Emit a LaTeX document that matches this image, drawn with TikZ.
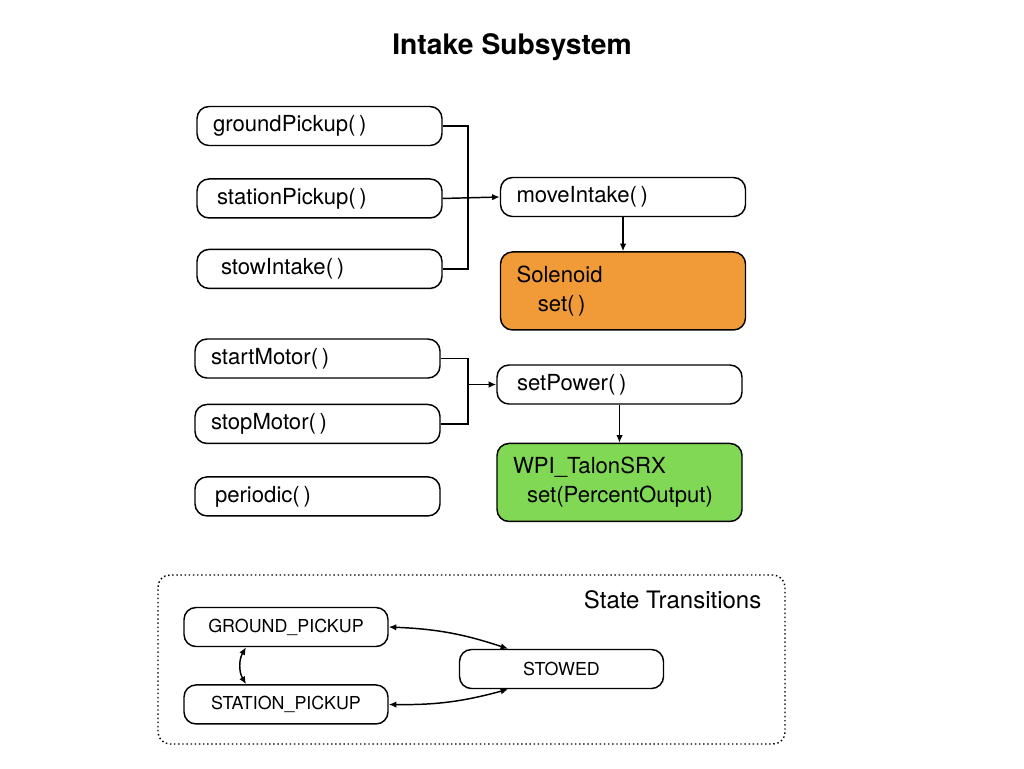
\documentclass[tikz,border=0pt]{standalone}
\usepackage{fontspec}
\setmainfont{TeX Gyre Heros}
\usetikzlibrary{arrows.meta, positioning}
\definecolor{solorange}{RGB}{240,155,56}
\definecolor{talongreen}{RGB}{128,216,85}

\begin{document}
\begin{tikzpicture}[
    x=0.75pt, y=-0.75pt,
    method/.style={rectangle, rounded corners=9pt, draw=black, line width=1.1pt, fill=white,
                   minimum height=29.25pt, text width=159.75pt, inner xsep=12pt,
                   align=left, font=\fontsize{16.6}{19}\selectfont},
    device/.style={method, minimum height=58.5pt, font=\fontsize{16.6}{22}\selectfont},
    state/.style={rectangle, rounded corners=9pt, draw=black, line width=1.1pt,
                  minimum width=153pt, minimum height=29.25pt,
                  text centered, font=\fontsize{13.4}{15}\selectfont},
    link/.style={line width=1.1pt},
    arrow/.style={link, -{Latex[length=2mm, width=1.7mm]}},
    twoway/.style={link, {Latex[length=2mm, width=1.7mm]}-{Latex[length=2mm, width=1.7mm]}}
]
\useasboundingbox (0,0) rectangle (1024,768);

% Titel
\node[font=\bfseries\fontsize{21.2}{25}\selectfont] (title) at (512,47) {Intake Subsystem};

% Intake-Methoden
\node[method] (ground) at (319.5,126) {groundPickup(\,)};
\node[method, below=24pt of ground] (station) {\hspace{3pt}stationPickup(\,)};
\node[method, below=22.5pt of station] (stow) {\hspace{6pt}stowIntake(\,)};
\node[method] (move) at (623,197) {moveIntake(\,)};
\node[device, fill=solorange, below=25.5pt of move] (sol) {Solenoid\\\hspace{16pt}set(\,)};

% Motor-Methoden
\node[method] (start) at (317.5,358.5) {startMotor(\,)};
\node[method, below=18.75pt of start] (stop) {stopMotor(\,)};
\node[method, below=24pt of stop] (periodic) {\hspace{3pt}periodic(\,)};
\node[method] (power) at (619.5,384.5) {\hspace{3pt}setPower(\,)};
\node[device, fill=talongreen, below=28.5pt of power] (talon) {WPI\_TalonSRX\\\hspace{10.5pt}set(PercentOutput)};

% Verbindungen
\coordinate (busA) at (468,0);
\draw[link] (ground.east) -- (ground.east -| busA) -- (stow.east -| busA) -- (stow.east);
\draw[arrow] (station.east) -- (move.west);
\draw[arrow] (move) -- (sol);

\coordinate (busB) at (468,0);
\draw[link] (start.east) -- (start.east -| busB) -- (stop.east -| busB) -- (stop.east);
\draw[arrow] (busB |- power.west) -- (power.west);
\draw[arrow] (power) -- (talon);

% Zustandsuebergaenge
\node[draw, dotted, line width=1.1pt, rounded corners=9pt,
      minimum width=470.25pt, minimum height=126.75pt] (frame) at (471.5,659.5) {};
\node[anchor=east, font=\fontsize{18}{21}\selectfont] (frametitle) at (766,599.5) {State Transitions};

\node[state] (gp) at (286,627) {GROUND\_PICKUP};
\node[state, below=27.75pt of gp] (sp) {STATION\_PICKUP};
\node[state] (stowed) at (561.5,669) {STOWED};

\draw[twoway] (gp.east) to[bend left=8] ([xshift=-40pt]stowed.north);
\draw[twoway] (sp.east) to[bend right=8] ([xshift=-40pt]stowed.south);
\draw[twoway] ([xshift=-30pt]gp.south) to[bend right=30] ([xshift=-30pt]sp.north);

\end{tikzpicture}
\end{document}
